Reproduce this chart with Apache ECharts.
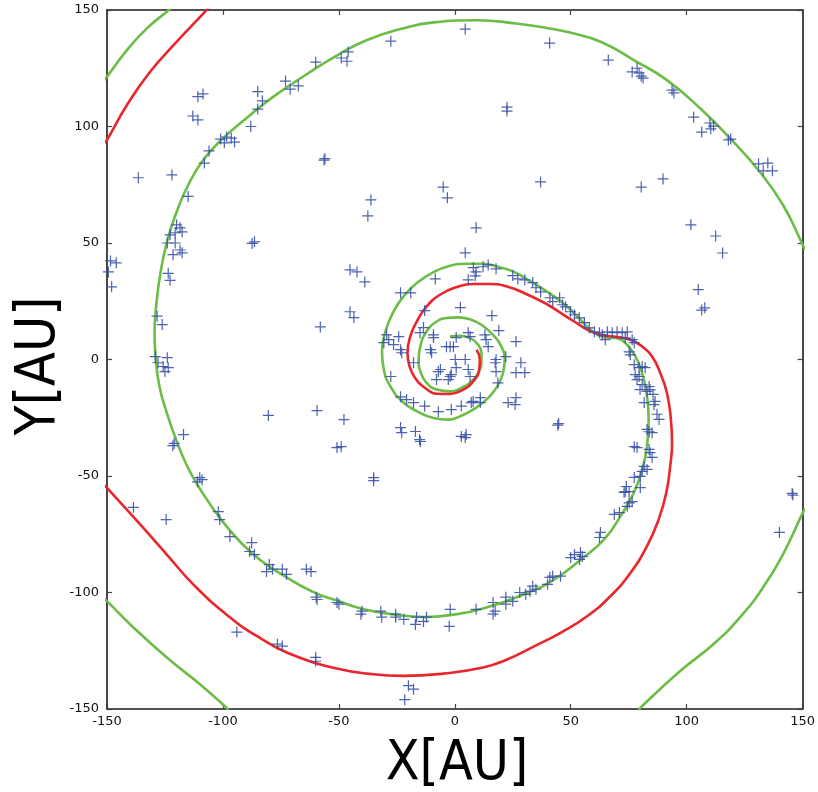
<!DOCTYPE html>
<html>
<head>
<meta charset="utf-8">
<script src="https://cdn.jsdelivr.net/npm/echarts@6/dist/echarts.min.js"></script>
<style>
html,body{margin:0;padding:0;background:#fff;}
#chart{width:818px;height:792px;}
</style>
</head>
<body>
<div id="chart"></div>
<script>
// Axis ticks
const xTicks = [-150, -100, -50, 0, 50, 100, 150];
const yTicks = [-150, -100, -50, 0, 50, 100, 150];

// Green spiral (segments, clipped by plot frame)
const greenInner = [
[-2.1,9.9],[2.2,10.2],[6.5,9.2],[9.4,7.1],[11.5,2.8],[11.5,-1.5],[10.1,-5.8],[7.2,-9.4],[2.9,-12.2],[-2.1,-13.7],
[-7.8,-12.9],[-12.1,-10.1],[-14.6,-5.8],[-15.6,-0.1],[-14.9,5.6],[-12.1,12.1],[-7.8,16.3],[-3.5,17.8],[1.5,18.1],
[6.5,17.3],[11.5,14.9],[16.5,10.6],[20.1,5.6],[21.5,-0.1],[20.8,-5.8],[17.9,-12.2],[13.6,-17.2],[7.9,-21.5],
[2.2,-24.4],[-2.8,-25.8],[-9.2,-25.1],[-16.4,-22.2],[-22.8,-17.9],[-27.8,-11.5],[-30.6,-4.4],[-31.4,3.5],
[-29.9,12.1],[-26.4,20.6],[-22.1,27.1],[-16.4,32.8],[-9.2,37.5],[-2.1,40.2],[5.1,41.1],[12.2,41.1],[19.4,39.6],
[25.1,37.8],[31.5,34.2],[38.6,29.9],[45.8,24.9],[52.9,18.5],[58.6,12.8],[64.4,9.6],[69.4,9.2],[73.6,7.1],
[77.9,1.3],[80.8,-5.8],[82.9,-15.8],[83.6,-25.8],[82.9,-37.2],[80.8,-47.2],[77.2,-57.2],[71.5,-67.2],
[64.4,-77.2],[54.4,-85.8],[42.9,-94.4],[31.5,-100.1],[12.2,-106.9],[-2.1,-109.7],[-13.5,-110.5],[-26.4,-109.4],
[-39.2,-107.2],[-50.0,-103.8],[-61.4,-99.6],[-72.8,-93.3],[-84.2,-85.8],[-92.8,-78.0],[-101.4,-67.9],
[-109.6,-56.0],[-115.4,-45.8],[-120.2,-34.4],[-124.2,-22.9],[-127.4,-11.5],[-128.9,-0.1],[-129.5,11.4],
[-128.8,22.8],[-127.0,36.8],[-124.1,50.6],[-119.9,63.5],[-115.0,74.9],[-108.5,85.6],[-100.0,94.9],[-89.9,103.5],
[-78.5,112.6],[-64.2,122.2],[-50.0,131.0],[-37.8,137.1],[-23.5,141.8],[-9.2,144.7],[9.4,145.6],[26.5,144.2],
[40.8,142.1],[49.7,140.3],[62.9,136.4],[77.2,128.5],[91.5,119.9],[105.8,107.8],[120.1,93.5],[131.5,80.6],
[141.5,66.4],[149.4,50.6],[151,47]
];
const greenOuterRight = [
[151,-64],[149.4,-67.2],[141.5,-83.7],[132.9,-97.9],[122.9,-110.8],[111.5,-122.2],[97.2,-133.7],[80.1,-149.4],[79,-151]
];
const greenOuterBottomLeft = [
[-97.5,-151],[-98.5,-149.4],[-109.9,-139.4],[-124.2,-127.9],[-138.5,-115.1],[-150.0,-103.7],[-151,-102.8]
];
const greenOuterTopLeft = [
[-151,120],[-150.0,121.4],[-141.4,132.8],[-132.8,142.1],[-123.5,149.9],[-122.5,151]
];

// Red spiral (segments)
const redInner = [
[9.4,4.2],[10.8,-0.1],[10.5,-4.4],[7.9,-9.4],[3.6,-12.9],[-2.1,-14.8],[-7.8,-14.7],[-12.8,-12.2],[-17.1,-7.9],
[-19.5,-2.9],[-20.4,2.8],[-19.2,9.9],[-16.4,16.3],[-12.1,22.8],[-6.4,27.8],[0.8,31.1],[7.9,32.4],[15.1,32.4],
[22.2,31.4],[31.5,27.8],[40.1,23.5],[45.8,19.9],[51.5,16.3],[57.2,12.8],[62.9,10.6],[70.1,9.6],[75.8,8.5],
[80.8,5.6],[85.1,1.3],[88.6,-5.8],[91.5,-14.4],[93.2,-25.8],[93.7,-35.8],[92.9,-45.8],[91.2,-57.2],[87.9,-68.7],
[82.9,-80.1],[75.8,-91.5],[67.2,-101.5],[57.2,-110.1],[45.8,-117.2],[34.4,-123.0],[22.0,-129.0],[12.2,-132.2],
[-4.9,-134.8],[-22.1,-135.8],[-37.8,-134.8],[-51.0,-132.6],[-67.1,-127.9],[-84.2,-119.4],[-98.5,-109.4],
[-112.8,-96.5],[-124.2,-83.7],[-135.7,-70.8],[-150.0,-55.1],[-151,-54]
];
const redOuterTopLeft = [
[-151,93],[-150.0,94.2],[-141.4,109.2],[-131.4,123.5],[-119.9,136.4],[-107.1,149.9],[-106.3,151]
];

// Observed points (+ markers)
const pointsX_Y = [
[-110.8,112.8],[-108.6,114],[-113,104.5],[-110.8,102.8],[-85,115],[-83,111],[-85,107.5],[-88,100],[-73,119.5],
[-71,116],[-67.5,117.4],[-60,127.6],[-101,94.6],[-98.4,95.5],[-96.4,95],[-95,93.3],[-99.4,93],[-106,89.5],
[-108,84.3],[-136.5,78],[-122,79.2],[-56.4,85.6],[-56,86.2],[-115,70],[-120,57.8],[-118.5,56.5],[-120.6,54.4],
[-117.6,54.8],[-122.8,53.5],[-124,50],[-120.6,50],[-86.4,50.5],[-87.4,49.8],
[-49,129.4],[-46.5,128],[-46,132],[-27.6,136.6],[4.5,141.8],[40.9,135.8],[22.5,108.3],[22.5,106.6],[37,76.2],
[-5,74],[-3.2,69.4],[-36.2,68.5],[-37.5,61.6],[9.2,56.5],
[66.2,128.5],[76.5,123.4],[78.6,125],[80.4,121.6],[81.2,120.8],[79.5,123],[93.7,115.6],[94.5,114.4],[103,104],
[110,101.5],[111.6,100.2],[106.5,97.6],[110.4,99],[118,94.2],[119,94.6],[131,84],[135,84.3],[133,81],[137,81],
[80.4,74],[89.8,77.5],[101.8,57.8],[112.5,53],
[-118.5,47],[-121.5,45],[-117.6,45.8],[-148.5,42.3],[-146,41.5],[-149.4,37.6],[-148,31.2],[-123.6,37],[-122.8,34],
[-128.4,18.6],[-126.2,15],[-129.2,1.2],[-124,0.8],[-128,-1.4],[-125.8,-3],[-123.6,-3.5],[-125,-5.2],[-58,14],
[-80.4,-24],[-59.4,-21.9],[-117,-32.2],[-121,-36],[-121.6,-37],[-110,-50.7],[-50.8,-37.8],
[4.5,45.8],[8,39.4],[9.2,37.6],[12.2,39.8],[14.4,40.6],[17.8,38.9],[8.8,35.9],[5.8,34.2],[-45.2,38.5],[-42.2,37.6],
[-38.8,33.3],[-8.4,34.6],[25,36],[27.2,34.6],[30.2,34.2],[33.6,33],[35,30.8],[37,29],[41,26.5],[42.2,24.8],
[45.2,26.5],[46.5,23.5],[47.8,22.6],[-23.4,28.6],[-19,28.6],[-45.2,20.5],[-43.5,18],[-13,21],[2.4,22.3],[16,18.8],
[19,12.4],[26.4,7.7],[-29.4,10.6],[-28.5,8.5],[-30.6,7.2],[-26.4,6.4],[-24.2,9.8],[-23.4,4.2],[-22.9,2.9],
[-15,11.5],[-13.5,13.7],[-9.2,10.6],[-9.2,9.4],[-10.5,4.2],[-10,2.9],[-3.6,5.5],[-2,5.5],[-0.6,5.5],[5.8,11.5],
[6.6,9.8],[13,10.6],[13.5,8.5],[14.4,5.5],[0.6,9.4],[0.2,0],[4.5,0],[0.6,-3.5],[5.8,-4.3],[6.6,-7.3],[-17.8,-1.4],
[-7.1,-5.2],[-6.2,-4.3],[-2,-7.3],[-2.8,-8.6],[-1.5,-6.5],[-7.9,-8.6],[17.8,0],[17.4,-1.4],[17.8,-5.2],[18.6,-10],
[22,1.2],[28.5,-1.4],[30.2,-5.6],[26.4,-5.6],[-27.6,-7.3],[-23.4,-16],[-20.8,-17.2],[-17.8,-18.5],[-13,-20],
[-7.1,-22.4],[-1.5,-21.5],[2.8,-20],[7.1,-18.5],[7.9,-18],[11,-16.4],[11,-18.5],[23,-18.5],[26,-19.4],[26.4,-16.4],
[44.8,-27.5],[44.4,-28.2],[-47.8,-25.8],[-23.4,-29.2],[-22.9,-31.4],[-17,-30.9],[-15.2,-34.4],[-14.8,-35.2],
[2.8,-33],[4.9,-32.2],[4.5,-33.5],[-49,-37.4],[-35,-50.7],
[115.5,45.7],[105,30],[106.5,21.2],[107.8,22.2],
[49.9,20.5],[51.6,19.2],[53.7,17.9],[55.9,15.8],[58,13.6],[60.2,11.9],[62.4,11.5],[63.6,10.6],[64.9,8.5],
[65.8,11.9],[67.9,11.5],[70,11.9],[72.2,11.5],[74.4,11.9],[73.5,9.3],[76.5,8.5],[77.4,7.2],[75.2,3.3],[75.7,2],
[77.4,-2.2],[79.5,-3.5],[80.8,-3],[82.1,-3.5],[77.8,-6.5],[79.5,-7.3],[78.6,-8.6],[80.8,-10.8],[83.8,-11.6],
[79.9,-12.9],[82.9,-13.7],[84.2,-12.9],[85.5,-15],[81.7,-18.5],[86.4,-18],[85.9,-19.4],[87.2,-23.5],[88.1,-25.7],
[82.9,-30],[85.1,-31.4],[83.8,-31],[77.4,-37.4],[78.6,-37.8],[83.8,-38.6],[85.1,-42],[84.2,-40],[81.7,-45.9],
[80.8,-48],[82.9,-47.2],
[80,-50.2],[80,-55],[77.4,-50.6],[74,-54.5],[73.5,-56.7],[75.2,-56.7],[73,-57],[75.2,-61.5],[76.5,-61],[74.4,-63],
[68.8,-66.5],[71,-65.7],[62.4,-76.4],[62.8,-74.2],[51.6,-83.7],[54.2,-82.8],[55,-84.5],[50,-85],[53.8,-85.8],
[145.5,-57.5],[145.8,-58.2],[140,-74.2],
[-35,-52],[41,-93.5],[42.2,-93],[45.6,-93],[40,-96.5],[33.6,-97.3],[35,-98.6],[32.4,-99.5],[30.6,-100.8],[28,-100],
[22,-102],[25,-103.8],[22,-105],[16.5,-104.3],[17.4,-108],[16.5,-109.3],[9.2,-107.2],[-2,-107.2],[-2.4,-114.5],
[-12.2,-110.6],[-13.5,-112.4],[-17,-113.7],[-16.5,-110.6],[-22,-111.5],[-25.5,-109.3],[-25.5,-110.6],
[-31.9,-108],[-31.5,-110.6],[-40,-108],[-40.5,-109.3],[-50.8,-104.3],[-50,-105],[-20,-140],[-17.8,-141.5],
[-21.6,-146],
[-111,-52.5],[-109,-51.6],[-138.6,-63.5],[-124.5,-68.7],[-102,-65.3],[-101.4,-68.7],[-97,-76],[-87.6,-78.6],
[-88.5,-82.4],[-86.4,-83.7],[-80,-88],[-81.2,-91],[-78.6,-90],[-74.4,-90],[-72.6,-92.2],[-64,-90],[-62,-91],
[-59.8,-102],[-59.4,-103],[-94,-117],[-76.5,-122.2],[-74.4,-123],[-60,-127.8],[-60,-129.5]
];

const GREEN = '#6bbd46';
const RED = '#e8262b';
const BLUE = '#3852a6';

function lineSeries(data, color) {
  return {
    type: 'line', data: data, smooth: 0.5, showSymbol: false, symbol: 'none',
    lineStyle: { color: color, width: 2.6 }, clip: true, z: 2, silent: true
  };
}

const chart = echarts.init(document.getElementById('chart'), null, { renderer: 'canvas' });

const axisCommon = {
  type: 'value', min: -150, max: 150, interval: 50,
  axisLine: { show: true, onZero: false, lineStyle: { color: '#1a1a1a', width: 1.6 } },
  axisTick: { show: true, inside: true, length: 5, lineStyle: { color: '#444', width: 1.2 } },
  splitLine: { show: false }
};

chart.setOption({
  animation: false,
  backgroundColor: '#ffffff',
  grid: { left: 107, top: 10, width: 699, height: 699, containLabel: false },
  xAxis: [
    Object.assign({}, axisCommon, {
      position: 'bottom',
      axisLabel: { show: true, color: '#111', fontSize: 13, fontFamily: 'DejaVu Sans', margin: 6,
        formatter: v => xTicks.includes(v) ? String(v) : '' }
    }),
    Object.assign({}, axisCommon, { position: 'top', axisLabel: { show: false } })
  ],
  yAxis: [
    Object.assign({}, axisCommon, {
      position: 'left',
      axisLabel: { show: true, color: '#111', fontSize: 13, fontFamily: 'DejaVu Sans', margin: 8,
        formatter: v => yTicks.includes(v) ? String(v) : '' }
    }),
    Object.assign({}, axisCommon, { position: 'right', axisLabel: { show: false } })
  ],
  graphic: [
    { type: 'text', x: 457, y: 765, style: { text: 'X[AU]', font: '55px "DejaVu Sans Condensed"', fill: '#000', textAlign: 'center', textVerticalAlign: 'middle' } },
    { type: 'text', x: 40, y: 366, rotation: Math.PI / 2, style: { text: 'Y[AU]', font: '55px "DejaVu Sans Condensed"', fill: '#000', textAlign: 'center', textVerticalAlign: 'middle' } }
  ],
  series: [
    lineSeries(greenInner, GREEN),
    lineSeries(greenOuterRight, GREEN),
    lineSeries(greenOuterBottomLeft, GREEN),
    lineSeries(greenOuterTopLeft, GREEN),
    lineSeries(redInner, RED),
    lineSeries(redOuterTopLeft, RED),
    {
      type: 'scatter', data: pointsX_Y, symbol: 'path://M0,4.45H10V5.55H0Z M4.45,0H5.55V10H4.45Z',
      symbolSize: 11, itemStyle: { color: BLUE, opacity: 0.9 }, z: 3, silent: true
    }
  ]
});
</script>
</body>
</html>
